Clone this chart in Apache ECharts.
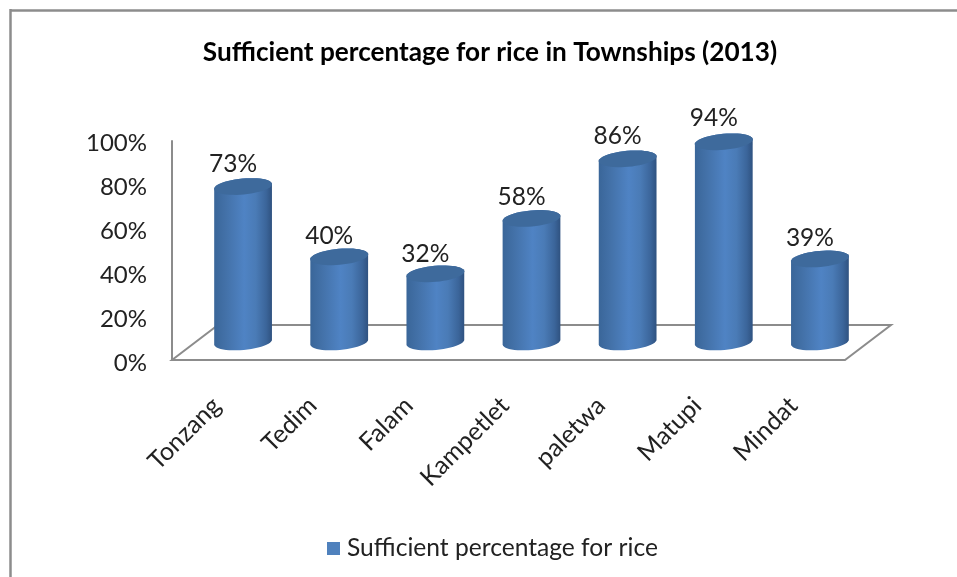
<!DOCTYPE html>
<html><head><meta charset="utf-8">
<style>html,body{margin:0;padding:0;background:#fff}#c{width:957px;height:577px}</style>
<script src="https://cdn.jsdelivr.net/npm/echarts@6/dist/echarts.min.js"></script>
</head><body><div id="c"></div>
<script>
const categories = ['Tonzang','Tedim','Falam','Kampetlet','paletwa','Matupi','Mindat'];
const values = [73,40,32,58,86,94,39];
const seriesName = 'Sufficient percentage for rice';
const titleText = 'Sufficient percentage for rice in Townships (2013)';
const FONT = 'Lato';
const chart = echarts.init(document.getElementById('c'), null, {renderer:'canvas'});
const GREY = '#8c8c8c';
const DEPTH = [46,-35];
const TILT = 0.09, RX = 29, RY = 8;

function ellipsePts(cx, cy, from, to, n){
  const pts = [];
  for(let i=0;i<=n;i++){
    const t = from + (to-from)*i/n;
    const ex = RX*Math.cos(t), ey = RY*Math.sin(t);
    pts.push([cx + ex*Math.cos(TILT) + ey*Math.sin(TILT), cy - ex*Math.sin(TILT) + ey*Math.cos(TILT)]);
  }
  return pts;
}
const bodyFill = new echarts.graphic.LinearGradient(0,0,1,0,[
  {offset:0,color:'#3a6699'},{offset:0.2,color:'#4371a8'},{offset:0.52,color:'#4f83c4'},
  {offset:0.72,color:'#4a7bb6'},{offset:0.9,color:'#3b659a'},{offset:1,color:'#2f5280'}]);

chart.setOption({
  animation:false,
  backgroundColor:'#fff',
  title:{text:titleText,left:485,top:35,textAlign:'center',
    textStyle:{fontFamily:FONT,fontWeight:'bold',fontSize:26.2,color:'#000'}},
  legend:{data:[{name:seriesName,icon:'rect'}],left:322,top:531,itemWidth:13,itemHeight:13,
    textStyle:{fontFamily:FONT,fontSize:24.6,color:'#222',padding:[0,0,0,2]}},
  graphic:[
    {type:'line',shape:{x1:10,y1:10.5,x2:957,y2:10.5},style:{stroke:GREY,lineWidth:2.5},silent:true},
    {type:'line',shape:{x1:10.5,y1:9,x2:10.5,y2:577},style:{stroke:GREY,lineWidth:2.5},silent:true}
  ],
  grid:[
    {left:172,top:141,width:673,height:219},
    {left:195,top:129,width:673,height:213},
    {left:172,top:143,width:673,height:220}
  ],
  xAxis:[
    {type:'category',gridIndex:0,data:categories,
      axisLine:{show:false},axisTick:{show:false},
      axisLabel:{rotate:45,interval:0,margin:38,padding:[0,5,0,0],fontFamily:FONT,fontSize:25,color:'#222'}},
    {type:'category',gridIndex:1,data:categories,show:false},
    {type:'category',gridIndex:2,data:categories,show:false}
  ],
  yAxis:[
    {type:'value',gridIndex:0,min:0,max:100,interval:20,
      axisLine:{show:true,lineStyle:{color:GREY,width:2}},axisTick:{show:false},splitLine:{show:false},
      axisLabel:{show:false}},
    {type:'value',gridIndex:1,min:0,max:100,show:false},
    {type:'value',gridIndex:2,min:0,max:100,interval:20,
      axisLine:{show:false},axisTick:{show:false},splitLine:{show:false},
      axisLabel:{margin:25,fontFamily:FONT,fontSize:24,color:'#222',formatter:'{value}%'}}
  ],
  series:[
    {name:'floor',type:'custom',xAxisIndex:0,yAxisIndex:0,z:1,silent:true,
      data:[0],
      renderItem(params,api){
        const r = params.coordSys;
        const b = r.y + r.height;
        return {type:'polygon',shape:{points:[
          [r.x,b],[r.x+DEPTH[0],b+DEPTH[1]],[r.x+r.width+DEPTH[0],b+DEPTH[1]],[r.x+r.width,b]
        ]},style:{fill:'#fff',stroke:GREY,lineWidth:2}};
      }},
    {name:seriesName,type:'custom',xAxisIndex:1,yAxisIndex:1,z:3,silent:true,
      itemStyle:{color:'#4f81bd'},
      encode:{x:0,y:1},
      data:values.map((v,i)=>[i,v]),
      renderItem(params,api){
        const top = api.coord([api.value(0),api.value(1)]);
        const base = api.coord([api.value(0),0]);
        const pts = ellipsePts(top[0],top[1],Math.PI,2*Math.PI,24)
          .concat(ellipsePts(base[0],base[1],0,Math.PI,24));
        return {type:'group',children:[
          {type:'polygon',shape:{points:pts},style:{fill:bodyFill}},
          {type:'polygon',shape:{points:ellipsePts(top[0],top[1],0,2*Math.PI,48)},style:{fill:'#3e6a9c'}}
        ]};
      }},
    {name:'labels',type:'scatter',xAxisIndex:0,yAxisIndex:0,z:4,silent:true,
      symbolSize:0,data:values,itemStyle:{opacity:1},
      label:{show:true,position:'inside',offset:[13,-36],formatter:'{c}%',
        fontFamily:FONT,fontSize:24.5,color:'#222',opacity:1}}
  ]
});
</script></body></html>
